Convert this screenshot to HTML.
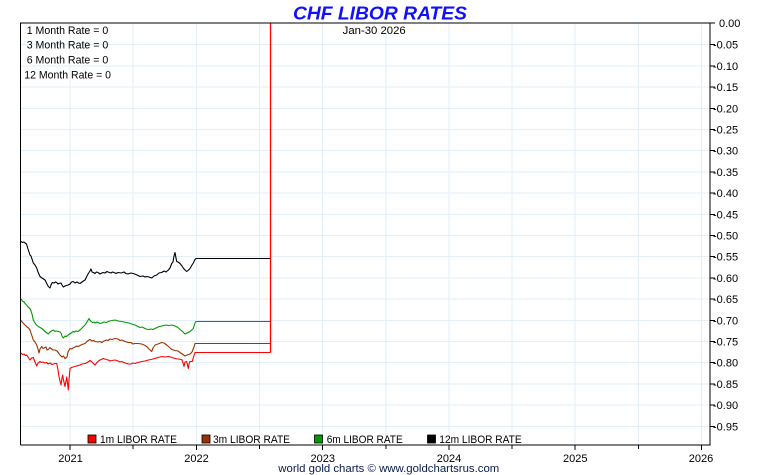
<!DOCTYPE html>
<html><head><meta charset="utf-8"><style>
html,body{margin:0;padding:0;background:#fff;}
svg{display:block;}
text{font-family:"Liberation Sans",Arial,sans-serif;}
</style></head><body>
<svg width="760" height="475" viewBox="0 0 760 475" xmlns="http://www.w3.org/2000/svg">
<rect width="760" height="475" fill="#fff"/>
<g stroke="#e2eff8" stroke-width="1" shape-rendering="crispEdges">
<line x1="20" y1="44.7" x2="710" y2="44.7"/><line x1="20" y1="65.9" x2="710" y2="65.9"/>
<line x1="20" y1="87.1" x2="710" y2="87.1"/><line x1="20" y1="108.3" x2="710" y2="108.3"/>
<line x1="20" y1="129.5" x2="710" y2="129.5"/><line x1="20" y1="150.7" x2="710" y2="150.7"/>
<line x1="20" y1="171.9" x2="710" y2="171.9"/><line x1="20" y1="193.1" x2="710" y2="193.1"/>
<line x1="20" y1="214.3" x2="710" y2="214.3"/><line x1="20" y1="235.5" x2="710" y2="235.5"/>
<line x1="20" y1="256.7" x2="710" y2="256.7"/><line x1="20" y1="277.9" x2="710" y2="277.9"/>
<line x1="20" y1="299.1" x2="710" y2="299.1"/><line x1="20" y1="320.3" x2="710" y2="320.3"/>
<line x1="20" y1="341.5" x2="710" y2="341.5"/><line x1="20" y1="362.7" x2="710" y2="362.7"/>
<line x1="20" y1="383.9" x2="710" y2="383.9"/><line x1="20" y1="405.1" x2="710" y2="405.1"/>
<line x1="20" y1="426.3" x2="710" y2="426.3"/>
<line x1="70" y1="23" x2="70" y2="445"/><line x1="133.2" y1="23" x2="133.2" y2="445"/>
<line x1="196.3" y1="23" x2="196.3" y2="445"/><line x1="259.5" y1="23" x2="259.5" y2="445"/>
<line x1="322.6" y1="23" x2="322.6" y2="445"/><line x1="385.8" y1="23" x2="385.8" y2="445"/>
<line x1="448.9" y1="23" x2="448.9" y2="445"/><line x1="512" y1="23" x2="512" y2="445"/>
<line x1="575.2" y1="23" x2="575.2" y2="445"/><line x1="638.3" y1="23" x2="638.3" y2="445"/>
<line x1="701.5" y1="23" x2="701.5" y2="445"/>
</g>
<!-- series -->
<g fill="none" stroke-width="1.1" stroke-linejoin="round">
<polyline stroke="#000" points="21,241.5 22.5,242.5 24,242 25,243 26.5,244 28,249 29,252 30,255 31,256 32,259 33.3,263 35,265 36.7,268 38,272 40,276.5 42,278 43.5,279 45,280 46,282 47,284 48.3,286.5 50,288 51,285 52.3,282.5 54,283 55.5,282 56.7,282.5 58,284 59,283.5 61,283 62,285 63.3,287 65,286 66.5,285.5 68.3,285 70,284 71.5,282 73.3,281.5 75,283 77,282 78.5,283 80,283.5 82,282 83.5,281 85,280 86.5,277 88.3,273.5 90,271 91,269 92,272 93.5,272.5 95,273.5 96.5,272 98,272.5 100,274 101,273.5 103,272.5 105,273 107,271.5 108,272 111,273 112.5,272 114,272.5 116,273.5 118,272.5 121,273 124,272 126,273.5 128,274 131,273 133.3,273.5 136,274.5 138,275.5 140,276.5 143,276 145,277 146.7,276.5 149,277 151.7,278 154,276 156.7,275 159,273 161.7,272.5 164,271 166,272 168.3,270 170,268 171.7,263.5 173,262 174,256 175,252.5 176,258 176.7,261.5 178,262 180,263.5 182,266 183.3,268 185,270 186.7,271.5 188,270.5 190,268.5 192,265 193.3,263 195,259.5 196,258.5 270,258.5"/>
<polyline stroke="#009900" points="21,299 22.5,301 24,302 25.5,304 26.7,305 28,307 30,308.5 31,311 32,314 33.3,320 35,323 36.5,325 38.3,326.5 41,328 43,329.5 45,331.5 47,333 48.3,334 50,332 51.5,331 53.3,330 55,331.5 56,331 58.3,331.5 60,332 61,333 62,336 63.3,338 65,336 66.5,336.5 68.3,335 71,333 73.3,331.5 74.5,332 76,331 78,331.5 80,330 82,328 85,325 87,322 89,318.5 90.5,321 92.3,322.5 94,322 95,323 97,322 98.3,322.5 100,323.5 102,323 104,322 106.7,322.5 108,321.5 110,321 112,320.5 115,320 118,321 121.7,321.5 124,322 126,322.5 129,323 131.7,324 135,325 137,326 140,327.5 142,327 144,328 146,329 148.3,329.5 151,329 153,329.5 155,328.5 158,327 161.7,326 164,325.5 166,325 169,325.5 171.7,325 175,326 178,327.5 180,329.5 183,332 185,334 187,333 190,331.5 193.3,328.5 195,323 196,321.5 270,321.5"/>
<polyline stroke="#993300" points="21,320.5 23,323 25,325 27,327 28.5,328 30,330 32,336 33.3,340 35,342 36.7,345 38,349 39,353 40,349 41.7,346.5 43,348.5 44,348 46,347 47,350 48.3,349.5 50,347.5 51,348.5 53,350 55,350 57,351 58.5,353 60,355 62,357 63.5,356 65,358.5 67,357 68,352 70,348.5 71.5,349 73,348 75,347 76.7,346 78,346.5 80,345.5 82,344.5 85,343.5 87.5,341 90,339.5 92,341 93.5,340.5 95,341.5 98,342 100,341.5 101.7,342.5 104,341 106.7,340 108,340.5 110,339 112,339.5 115,338.5 118,339 120,340.5 121.7,340 125,341.5 128.3,342.5 131,342.5 133,344 135,343.5 138,343.5 141.7,344 144,345 146.7,346.5 149,349 151.7,351.5 153,348 155,345 158,344 161.7,342.5 164,343 166.7,345 169,347 171.7,349.5 175,350.5 178,351 180,352.5 183,354.5 185,356 187,355 190,354 192,352 194,347 195,343.5 196,343.5 270,343.5"/>
<polyline stroke="#ff0000" points="21,353 22.5,354.5 24,354 25.5,355.5 26.7,355 28,357 30,360 31.5,358 33.3,357.5 35,362 36.7,366 38,363 40,361.5 41.5,362.5 43,362 45,363 46.7,362.5 48,364 50,363 52,364.5 53.3,364 55,363.5 56.7,363.5 58,370 59,376.5 60,381 61,385 62,378 62.7,375 63.5,380 65,386.5 66,381 66.7,377 67.5,383 68.3,390 69,380 70,368.5 71.5,367.5 73,367 75,366.5 76.7,366 78,365.5 80,365 82,364 85,363.5 88,362 90,360.5 92,362 93.5,363.5 95,365 97,362.5 98.5,361 100,360 103.3,358.5 106,359.5 108.3,360 110,361 112,360.5 115,360 118,361 120,362 121.7,361.5 125,363 127,363.5 128.3,364 131,364 133,363 135,363.5 138,362.5 141.7,361.5 145,361 148.3,360 151,359.5 153,359 155,358.5 158,357.5 161.7,356.5 165,357 168.3,356.5 172,357.5 175,358.5 178,359 181.7,359.5 183,363 184,366.5 185,362 186.7,361.5 187.5,365 188.3,368.5 189,364 190,361.5 192.3,361.5 193.5,357 195,352.5 196,352.5 270.5,352.5"/>
<line x1="270.5" y1="352.5" x2="270.5" y2="23" stroke="#ff0000" stroke-width="1.3"/>
</g>
<!-- axes -->
<g stroke="#000" stroke-width="1.2" fill="none" shape-rendering="crispEdges">
<polyline points="20.5,445 20.5,23 710,23 710,445 20.5,445"/>
</g>
<g stroke="#000" stroke-width="1" shape-rendering="crispEdges">
<line x1="710" y1="23" x2="715" y2="23"/><line x1="710" y1="44.7" x2="715" y2="44.7"/>
<line x1="710" y1="65.9" x2="715" y2="65.9"/><line x1="710" y1="87.1" x2="715" y2="87.1"/>
<line x1="710" y1="108.3" x2="715" y2="108.3"/><line x1="710" y1="129.5" x2="715" y2="129.5"/>
<line x1="710" y1="150.7" x2="715" y2="150.7"/><line x1="710" y1="171.9" x2="715" y2="171.9"/>
<line x1="710" y1="193.1" x2="715" y2="193.1"/><line x1="710" y1="214.3" x2="715" y2="214.3"/>
<line x1="710" y1="235.5" x2="715" y2="235.5"/><line x1="710" y1="256.7" x2="715" y2="256.7"/>
<line x1="710" y1="277.9" x2="715" y2="277.9"/><line x1="710" y1="299.1" x2="715" y2="299.1"/>
<line x1="710" y1="320.3" x2="715" y2="320.3"/><line x1="710" y1="341.5" x2="715" y2="341.5"/>
<line x1="710" y1="362.7" x2="715" y2="362.7"/><line x1="710" y1="383.9" x2="715" y2="383.9"/>
<line x1="710" y1="405.1" x2="715" y2="405.1"/><line x1="710" y1="426.3" x2="715" y2="426.3"/>
<line x1="70" y1="445" x2="70" y2="450"/><line x1="133.2" y1="445" x2="133.2" y2="449"/>
<line x1="196.3" y1="445" x2="196.3" y2="450"/><line x1="259.5" y1="445" x2="259.5" y2="449"/>
<line x1="322.6" y1="445" x2="322.6" y2="450"/><line x1="385.8" y1="445" x2="385.8" y2="449"/>
<line x1="448.9" y1="445" x2="448.9" y2="450"/><line x1="512" y1="445" x2="512" y2="449"/>
<line x1="575.2" y1="445" x2="575.2" y2="450"/><line x1="638.3" y1="445" x2="638.3" y2="449"/>
<line x1="701.5" y1="445" x2="701.5" y2="450"/>
</g>
<!-- right axis labels -->
<g font-size="11" fill="#000">
<text x="719" y="27">0.00</text>
<text x="713" y="48.7">-0.05</text><text x="713" y="69.9">-0.10</text><text x="713" y="91.1">-0.15</text>
<text x="713" y="112.3">-0.20</text><text x="713" y="133.5">-0.25</text><text x="713" y="154.7">-0.30</text>
<text x="713" y="175.9">-0.35</text><text x="713" y="197.1">-0.40</text><text x="713" y="218.3">-0.45</text>
<text x="713" y="239.5">-0.50</text><text x="713" y="260.7">-0.55</text><text x="713" y="281.9">-0.60</text>
<text x="713" y="303.1">-0.65</text><text x="713" y="324.3">-0.70</text><text x="713" y="345.5">-0.75</text>
<text x="713" y="366.7">-0.80</text><text x="713" y="387.9">-0.85</text><text x="713" y="409.1">-0.90</text>
<text x="713" y="430.3">-0.95</text>
</g>
<!-- year labels -->
<g font-size="11" fill="#000" text-anchor="middle">
<text x="70.5" y="462">2021</text><text x="196.5" y="462">2022</text><text x="322.8" y="462">2023</text>
<text x="449" y="462">2024</text><text x="575.3" y="462">2025</text><text x="701" y="462">2026</text>
</g>
<!-- title -->
<text x="293" y="19.5" font-size="18" font-weight="bold" font-style="italic" fill="#1010ff" textLength="174" lengthAdjust="spacingAndGlyphs">CHF LIBOR RATES</text>
<!-- top-left info -->
<g font-size="11" fill="#000">
<text x="26.7" y="34" textLength="81.6" lengthAdjust="spacingAndGlyphs">1 Month Rate = 0</text>
<text x="26.7" y="48.5" textLength="81.6" lengthAdjust="spacingAndGlyphs">3 Month Rate = 0</text>
<text x="26.7" y="63.5" textLength="81.6" lengthAdjust="spacingAndGlyphs">6 Month Rate = 0</text>
<text x="24.3" y="78.5" textLength="86.7" lengthAdjust="spacingAndGlyphs">12 Month Rate = 0</text>
<text x="342.7" y="34" textLength="63" lengthAdjust="spacingAndGlyphs">Jan-30  2026</text>
</g>
<!-- legend -->
<g stroke="#000" stroke-width="0.8">
<rect x="88" y="435" width="8" height="8" fill="#ff0000"/>
<rect x="202" y="435" width="8" height="8" fill="#993300"/>
<rect x="314.5" y="435" width="8" height="8" fill="#009900"/>
<rect x="427.5" y="435" width="8" height="8" fill="#000"/>
</g>
<g font-size="11" fill="#000">
<text x="100" y="443" textLength="77" lengthAdjust="spacingAndGlyphs">1m LIBOR RATE</text>
<text x="213" y="443" textLength="77" lengthAdjust="spacingAndGlyphs">3m LIBOR RATE</text>
<text x="326.7" y="443" textLength="76" lengthAdjust="spacingAndGlyphs">6m LIBOR RATE</text>
<text x="439.3" y="443" textLength="82.4" lengthAdjust="spacingAndGlyphs">12m LIBOR RATE</text>
</g>
<text x="278.3" y="472" font-size="11" fill="#0a1a50" textLength="221" lengthAdjust="spacingAndGlyphs">world gold charts © www.goldchartsrus.com</text>
</svg>
</body></html>
